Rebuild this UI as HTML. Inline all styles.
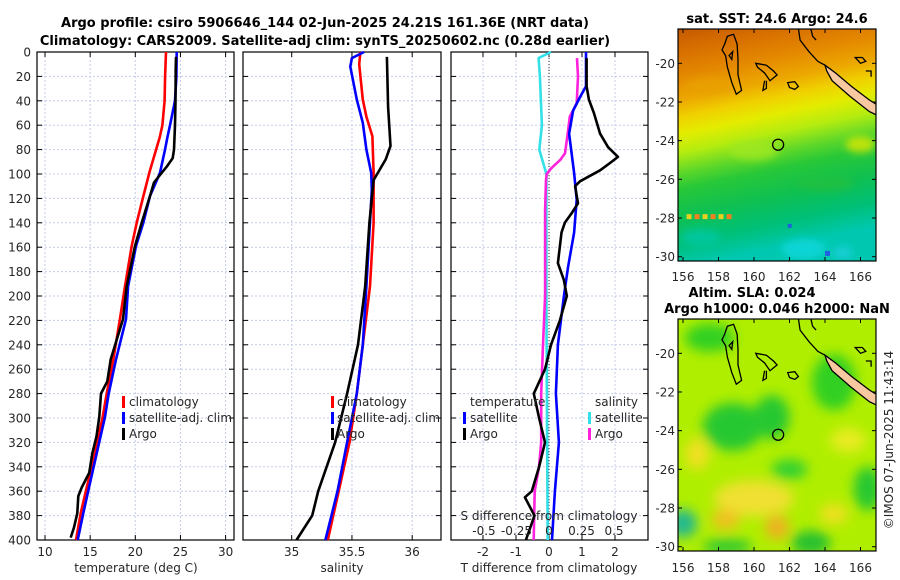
<!DOCTYPE html>
<html><head><meta charset="utf-8">
<style>
html,body{margin:0;padding:0;background:#fff;}
svg{display:block;font-family:"DejaVu Sans","Liberation Sans",sans-serif;}
.tk{font-size:12px;fill:#262626;}
.tt{font-size:13px;font-weight:bold;fill:#000;}
</style></head>
<body>
<svg id="fig" width="900" height="580" viewBox="0 0 900 580" xmlns="http://www.w3.org/2000/svg">
<defs>
<linearGradient id="sstGrad" x1="0" y1="0" x2="0.18" y2="1">
<stop offset="0" stop-color="#c45a00"/><stop offset="0.1" stop-color="#d87000"/>
<stop offset="0.2" stop-color="#e48800"/><stop offset="0.3" stop-color="#eca800"/>
<stop offset="0.37" stop-color="#f0d000"/><stop offset="0.44" stop-color="#e4ec00"/>
<stop offset="0.52" stop-color="#b4ec10"/><stop offset="0.6" stop-color="#60d828"/>
<stop offset="0.67" stop-color="#28c838"/><stop offset="0.78" stop-color="#10c050"/>
<stop offset="0.9" stop-color="#00c078"/><stop offset="1" stop-color="#00c8b0"/>
</linearGradient>
<filter id="blur6" x="-50%" y="-50%" width="200%" height="200%"><feGaussianBlur stdDeviation="6"/></filter>
<filter id="blur4" x="-50%" y="-50%" width="200%" height="200%"><feGaussianBlur stdDeviation="4"/></filter>
<clipPath id="clip1"><rect x="678" y="29" width="198" height="232"/></clipPath>
<clipPath id="clip2"><rect x="678" y="319" width="198" height="232"/></clipPath>
</defs>

<text class="tt" x="325" y="27" text-anchor="middle">Argo profile: csiro 5906646_144 02-Jun-2025 24.21S 161.36E (NRT data)</text>
<text class="tt" x="325" y="45" text-anchor="middle">Climatology: CARS2009. Satellite-adj clim: synTS_20250602.nc (0.28d earlier)</text>

<g id="p1"></g>
<g id="p2"></g>
<g id="p3"></g>
<g id="m1"></g>
<g id="m2"></g>

<text class="tt" x="777" y="23" text-anchor="middle">sat. SST: 24.6 Argo: 24.6</text>
<text class="tt" x="752" y="297" text-anchor="middle">Altim. SLA: 0.024</text>
<text class="tt" x="777" y="313" text-anchor="middle">Argo h1000: 0.046 h2000: NaN</text>
<text class="tk" transform="translate(893,440) rotate(-90)" text-anchor="middle">©IMOS 07-Jun-2025 11:43:14</text>
</svg>
<script>
// ---- data ----
const depthTicks = [0,20,40,60,80,100,120,140,160,180,200,220,240,260,280,300,320,340,360,380,400];
const tempTicks = [10,15,20,25,30];
const salTicks = [35,35.5,36];
const salTickLabels = ["35","35.5","36"];
const dTTicks = [-2,-1,0,1,2];
const dSTicks = [-0.5,-0.25,0,0.25,0.5];
const dSTickLabels = ["-0.5","-0.25","0","0.25","0.5"];

const climDepth = [0,20,40,60,70,80,99,118,140,159,192,219,252,280,299,329,357,378,400];
const tempClim = [23.4,23.3,23.25,23.0,22.7,22.3,21.55,20.9,20.15,19.6,18.86,18.3,17.56,16.83,16.39,15.54,14.62,13.95,13.43];
const tempSat = [24.58,24.55,24.4,23.84,23.55,23.29,22.74,21.63,20.89,20.08,19.2,18.97,17.86,17.05,16.64,15.73,14.87,14.24,13.62];
const argoTDepth = [4,14,40,60,80,87,94,99,107,118,140,159,192,219,252,270,280,299,315,329,345,357,364,378,390,398];
const tempArgo = [24.51,24.47,24.45,24.4,24.29,24.14,23.48,22.92,22.07,21.63,20.71,19.97,19.05,18.64,17.28,16.9,16.2,16.01,15.7,15.24,14.9,14.06,13.69,13.58,13.2,12.85];

const salClimDepth = [0,10,39,53,69,99,140,192,240,280,320,360,400];
const salClim = [35.57,35.56,35.59,35.62,35.67,35.68,35.68,35.65,35.59,35.54,35.48,35.39,35.3];
const salSatDepth = [0,5,12,39,58,80,99,113,192,240,280,320,360,400];
const salSat = [35.6,35.5,35.486,35.54,35.59,35.62,35.66,35.665,35.62,35.59,35.54,35.46,35.38,35.28];
const salArgoDepth = [4,45,77,88,105,140,192,240,280,320,360,380,400];
const salArgo = [35.79,35.80,35.82,35.78,35.68,35.645,35.61,35.55,35.46,35.36,35.22,35.17,35.04];

const dTSatDepth = [0,28,37,48,67,99,121,148,176,200,240,280,320,360,400];
const dTSat = [1.12,1.12,0.94,0.73,0.61,0.76,0.84,0.76,0.58,0.45,0.27,0.21,0.30,0.18,0.09];
const dTArgoDepth = [5,28,39,50,67,78,86,91,97,106,110,124,132,140,148,173,187,200,220,240,260,280,300,320,340,360,365,380,400];
const dTArgo = [1.14,1.14,1.21,1.36,1.55,1.79,2.09,1.85,1.55,0.94,0.79,0.88,0.69,0.48,0.38,0.27,0.45,0.54,0.33,0.06,-0.12,-0.46,-0.30,-0.12,-0.30,-0.52,-0.73,-0.44,-0.70];
const dSSatDepth = [0,5,20,60,80,100,120,200,300,400];
const dSSat = [0.015,-0.08,-0.07,-0.055,-0.075,-0.02,-0.02,-0.02,-0.015,-0.01];
const dSArgoDepth = [5,20,42,53,67,83,88,95,100,105,130,200,240,280,320,340,360,400];
const dSArgo = [0.215,0.223,0.213,0.16,0.144,0.123,0.09,0.02,-0.018,-0.023,-0.03,-0.03,-0.046,-0.06,-0.06,-0.077,-0.11,-0.118];

const latTicks = [-20,-22,-24,-26,-28,-30];
const lonTicks = [156,158,160,162,164,166];

// ---- helpers ----
const NS = "http://www.w3.org/2000/svg";
function mk(tag, parent, attrs){ const e=document.createElementNS(NS,tag); for(const k in attrs) e.setAttribute(k,attrs[k]); parent.appendChild(e); return e; }
const Y0=52, Y1=540;
const yD = d => Y0 + d*(Y1-Y0)/400;
const xT = t => 45 + (t-10)*9.03;
const xS = s => 291.7 + (s-35)*120.5;
const xDT = v => 549 + v*33;
const xDS = v => 549 + v*130;

function panel(g, x0, x1, xticks, xfn, labels, labelY, showDepth){
  for(const t of xticks){ const x=xfn(t);
    const gl=mk('line',g,{x1:x,x2:x,y1:Y0,y2:Y1,stroke:'#c4cbea','stroke-width':1,'stroke-dasharray':'2,2'});
     
  }
  for(const d of depthTicks){ const y=yD(d);
    const gl=mk('line',g,{x1:x0,x2:x1,y1:y,y2:y,stroke:'#c4cbea','stroke-width':1,'stroke-dasharray':'2,2'});
     
    mk('line',g,{x1:x0,x2:x0+5,y1:y,y2:y,stroke:'#000'});
    mk('line',g,{x1:x1-5,x2:x1,y1:y,y2:y,stroke:'#000'});
    if(showDepth){ const t=mk('text',g,{x:x0-6,y:y+4.5,'text-anchor':'end',class:'tk'}); t.textContent=d;
        }
  }
  xticks.forEach((t,i)=>{ const x=xfn(t);
    mk('line',g,{x1:x,x2:x,y1:Y1-5,y2:Y1,stroke:'#000'}); mk('line',g,{x1:x,x2:x,y1:Y0,y2:Y0+5,stroke:'#000'});
    if(labels){ const tx=mk('text',g,{x:x,y:labelY,'text-anchor':'middle',class:'tk'}); tx.textContent=labels[i];
        }
  });
  const b=mk('rect',g,{x:x0,y:Y0,width:x1-x0,height:Y1-Y0,fill:'none',stroke:'#000','stroke-width':1.2});
   
}
function line(g, xs, ds, xfn, color, name){
  const pts = xs.map((v,i)=> xfn(v).toFixed(1)+','+yD(ds[i]).toFixed(1)).join(' ');
  const p=mk('polyline',g,{points:pts,fill:'none',stroke:color,'stroke-width':2.6,'stroke-linejoin':'round'});
   
}
function txt(g,x,y,s,name,anchor){ const t=mk('text',g,{x:x,y:y,class:'tk','text-anchor':anchor||'start'}); t.textContent=s;
    return t; }
function legMark(g,x,y,color,name){ const r=mk('rect',g,{x:x,y:y-11,width:3,height:12,fill:color});
    }

// ---- panel 1: temperature ----
const p1=document.getElementById('p1');
panel(p1,37,234,tempTicks,xT,tempTicks.map(String),556,true);
line(p1,tempClim,climDepth,xT,'#ff0000','temp-climatology-line');
line(p1,tempSat,climDepth,xT,'#0000ff','temp-satellite-line');
line(p1,tempArgo,argoTDepth,xT,'#000000','temp-argo-line');
legMark(p1,122,407,'#ff0000','legend-climatology-marker'); txt(p1,129,406,'climatology','legend-climatology');
legMark(p1,122,423,'#0000ff','legend-satellite-marker'); txt(p1,129,422,'satellite-adj. clim','legend-satellite');
legMark(p1,122,439,'#000000','legend-argo-marker'); txt(p1,129,438,'Argo','legend-argo');
txt(p1,136,572,'temperature (deg C)','x-axis-title','middle');

// ---- panel 2: salinity ----
const p2=document.getElementById('p2');
panel(p2,243,441,salTicks,xS,salTickLabels,556,false);
line(p2,salClim,salClimDepth,xS,'#ff0000','sal-climatology-line');
line(p2,salSat,salSatDepth,xS,'#0000ff','sal-satellite-line');
line(p2,salArgo,salArgoDepth,xS,'#000000','sal-argo-line');
legMark(p2,331,407,'#ff0000','legend-climatology-marker'); txt(p2,337,406,'climatology','legend-climatology');
legMark(p2,331,423,'#0000ff','legend-satellite-marker'); txt(p2,337,422,'satellite-adj. clim','legend-satellite');
legMark(p2,331,439,'#000000','legend-argo-marker'); txt(p2,337,438,'Argo','legend-argo');
txt(p2,342,572,'salinity','x-axis-title','middle');

// ---- panel 3: differences ----
const p3=document.getElementById('p3');
panel(p3,451,648,dTTicks,xDT,dTTicks.map(String),556,false);
const zl=mk('line',p3,{x1:xDT(0),x2:xDT(0),y1:Y0,y2:Y1,stroke:'#333','stroke-width':1,'stroke-dasharray':'1,2'});
 
line(p3,dSSat,dSSatDepth,xDS,'#33e0e8','sal-diff-satellite-line');
line(p3,dSArgo,dSArgoDepth,xDS,'#ff22dd','sal-diff-argo-line');
line(p3,dTSat,dTSatDepth,xDT,'#0000ff','temp-diff-satellite-line');
line(p3,dTArgo,dTArgoDepth,xDT,'#000000','temp-diff-argo-line');
txt(p3,470,406,'temperature','legend-temperature-header');
legMark(p3,463,423,'#0000ff','legend-temp-satellite-marker'); txt(p3,470,422,'satellite','legend-temp-satellite');
legMark(p3,463,439,'#000000','legend-temp-argo-marker'); txt(p3,470,438,'Argo','legend-temp-argo');
txt(p3,595,406,'salinity','legend-salinity-header');
legMark(p3,588,423,'#33e0e8','legend-sal-satellite-marker'); txt(p3,595,422,'satellite','legend-sal-satellite');
legMark(p3,588,439,'#ff22dd','legend-sal-argo-marker'); txt(p3,595,438,'Argo','legend-sal-argo');
txt(p3,549,520,'S difference from climatology','s-axis-title','middle');
dSTicks.forEach((v,i)=>{ txt(p3,xDS(v),535,dSTickLabels[i],'s-tick-label','middle'); });
txt(p3,549,572,'T difference from climatology','x-axis-title','middle');

// ---- maps ----
const MX=lon=>683+(lon-156)*17.75;
function mapFrame(lat20y, lat30y){
  return lat=>lat20y+(lat+20)*(lat30y-lat20y)/(-10);
}
function coasts(g, MY, clipId){
  const cg=mk('g',g,{'clip-path':'url(#'+clipId+')'});
   
  const P=pts=>pts.map(p=>MX(p[0]).toFixed(1)+','+MY(p[1]).toFixed(1)).join(' ');
  const st={fill:'none',stroke:'#000','stroke-width':1.3};
  mk('polygon',cg,Object.assign({points:P([[158.5,-18.6],[158.85,-18.5],[159.05,-19.0],[159.1,-19.8],[159.1,-20.6],[159.3,-21.4],[159.0,-21.6],[158.75,-21.0],[158.5,-20.2],[158.4,-19.6],[158.2,-19.3],[158.35,-19.0]])},st));
  mk('polygon',cg,Object.assign({points:P([[158.6,-19.6],[158.8,-19.4],[158.75,-19.8]])},st));
  mk('polygon',cg,Object.assign({points:P([[160.1,-20.0],[160.7,-20.1],[161.1,-20.4],[161.3,-20.6],[160.9,-20.9],[160.6,-20.5],[160.2,-20.2]])},st));
  mk('polyline',cg,Object.assign({points:P([[160.6,-20.9],[160.5,-21.4],[160.7,-21.3],[160.7,-20.9]])},st));
  mk('polygon',cg,Object.assign({points:P([[161.9,-21.0],[162.3,-20.95],[162.5,-21.2],[162.3,-21.35],[162.0,-21.25]])},st));
  mk('polyline',cg,Object.assign({points:P([[162.5,-18.2],[162.6,-18.8],[163.1,-19.4],[163.6,-19.9],[164.0,-20.1]])},st));
  mk('polyline',cg,Object.assign({points:P([[163.2,-18.2],[163.3,-18.6],[163.5,-18.8]])},st));
  mk('polygon',cg,{points:P([[164.0,-20.1],[164.6,-20.5],[165.5,-21.2],[166.5,-21.9],[167.2,-22.3],[167.2,-22.8],[166.5,-22.5],[165.4,-21.7],[164.4,-20.9],[164.1,-20.4]]),fill:'#f8c8a0',stroke:'#000','stroke-width':1.3});
  mk('polygon',cg,Object.assign({points:P([[165.7,-19.7],[166.1,-19.7],[166.3,-19.9],[166.0,-20.0]])},st));
  mk('polyline',cg,Object.assign({points:P([[166.3,-20.4],[166.6,-20.4],[166.6,-20.7]])},st));
  mk('circle',cg,{cx:MX(161.36),cy:MY(-24.21),r:5.5,fill:'none',stroke:'#000','stroke-width':1.3});
}
function axes(g, top, MY, lonLabelY){
  latTicks.forEach(l=>{ const y=MY(l);
    mk('line',g,{x1:678,x2:682,y1:y,y2:y,stroke:'#000'}); mk('line',g,{x1:872,x2:876,y1:y,y2:y,stroke:'#000'});
    txt(g,675,y+4.5,String(l),'lat-tick-label','end'); });
  lonTicks.forEach(l=>{ const x=MX(l);
    mk('line',g,{x1:x,x2:x,y1:top,y2:top+4,stroke:'#000'}); mk('line',g,{x1:x,x2:x,y1:top+228,y2:top+232,stroke:'#000'});
    txt(g,x,lonLabelY,String(l),'lon-tick-label','middle'); });
  const f=mk('rect',g,{x:678,y:top,width:198,height:232,fill:'none',stroke:'#000','stroke-width':1.2});
   
}
// map 1 SST
const m1=document.getElementById('m1');
const MY1=mapFrame(63.3,256.7);
const c1=mk('g',m1,{'clip-path':'url(#clip1)'});
 
mk('rect',c1,{x:678,y:29,width:198,height:232,fill:'url(#sstGrad)'});
const b1=mk('g',c1,{filter:'url(#blur4)'});
[[162.8,-29.6,22,10,'#10d8e0'],[165,-29.8,10,6,'#20d0e0'],[157,-29,20,8,'#00c8a8'],[160,-24.5,25,10,'#a0e820'],[164,-26.2,30,8,'#20c040'],[157.5,-21.2,25,8,'#e8a000'],[166,-24.2,15,8,'#e0e800']].forEach(b=>{
  mk('ellipse',b1,{cx:MX(b[0]),cy:MY1(b[1]),rx:b[2],ry:b[3],fill:b[4],opacity:0.8}); });
for(let i=0;i<6;i++) mk('rect',c1,{x:MX(156.2)+i*8,y:MY1(-27.8),width:5,height:5,fill:i%2?'#f08020':'#e8d020'});
mk('rect',c1,{x:MX(161.9),y:MY1(-28.3),width:4,height:4,fill:'#2060e0'});
mk('rect',c1,{x:MX(164.0),y:MY1(-29.7),width:5,height:5,fill:'#2060e0'});
coasts(m1,MY1,'clip1');
axes(m1,29,MY1,281);

// map 2 SLA
const m2=document.getElementById('m2');
const MY2=mapFrame(353.3,546.7);
const c2=mk('g',m2,{'clip-path':'url(#clip2)'});
 
mk('rect',c2,{x:678,y:319,width:198,height:232,fill:'#b0ee00'});
const b2=mk('g',c2,{filter:'url(#blur6)'});
[[157.5,-19.2,25,14,'#30d020'],[158.8,-23.8,30,24,'#28c830'],[161,-23.3,18,22,'#28c830'],[164.5,-21.5,22,28,'#30d020'],[166.4,-27,14,22,'#28c830'],[163.2,-29.8,20,12,'#28c030'],[158.5,-30,25,8,'#30c830'],[156,-28.8,14,14,'#20b890'],[162,-26,18,10,'#30d030'],
 [156.8,-25.2,12,16,'#f0e020'],[160,-27.5,40,18,'#f0e030'],[158.4,-28.6,14,10,'#f0c020'],[161.3,-29,12,12,'#f0b020'],[165.3,-24.5,18,12,'#e8ec20'],[164.5,-28.3,14,10,'#f0e020']].forEach(b=>{
  mk('ellipse',b2,{cx:MX(b[0]),cy:MY2(b[1]),rx:b[2],ry:b[3],fill:b[4]}); });
coasts(m2,MY2,'clip2');
axes(m2,319,MY2,572);
</script>
</body></html>
